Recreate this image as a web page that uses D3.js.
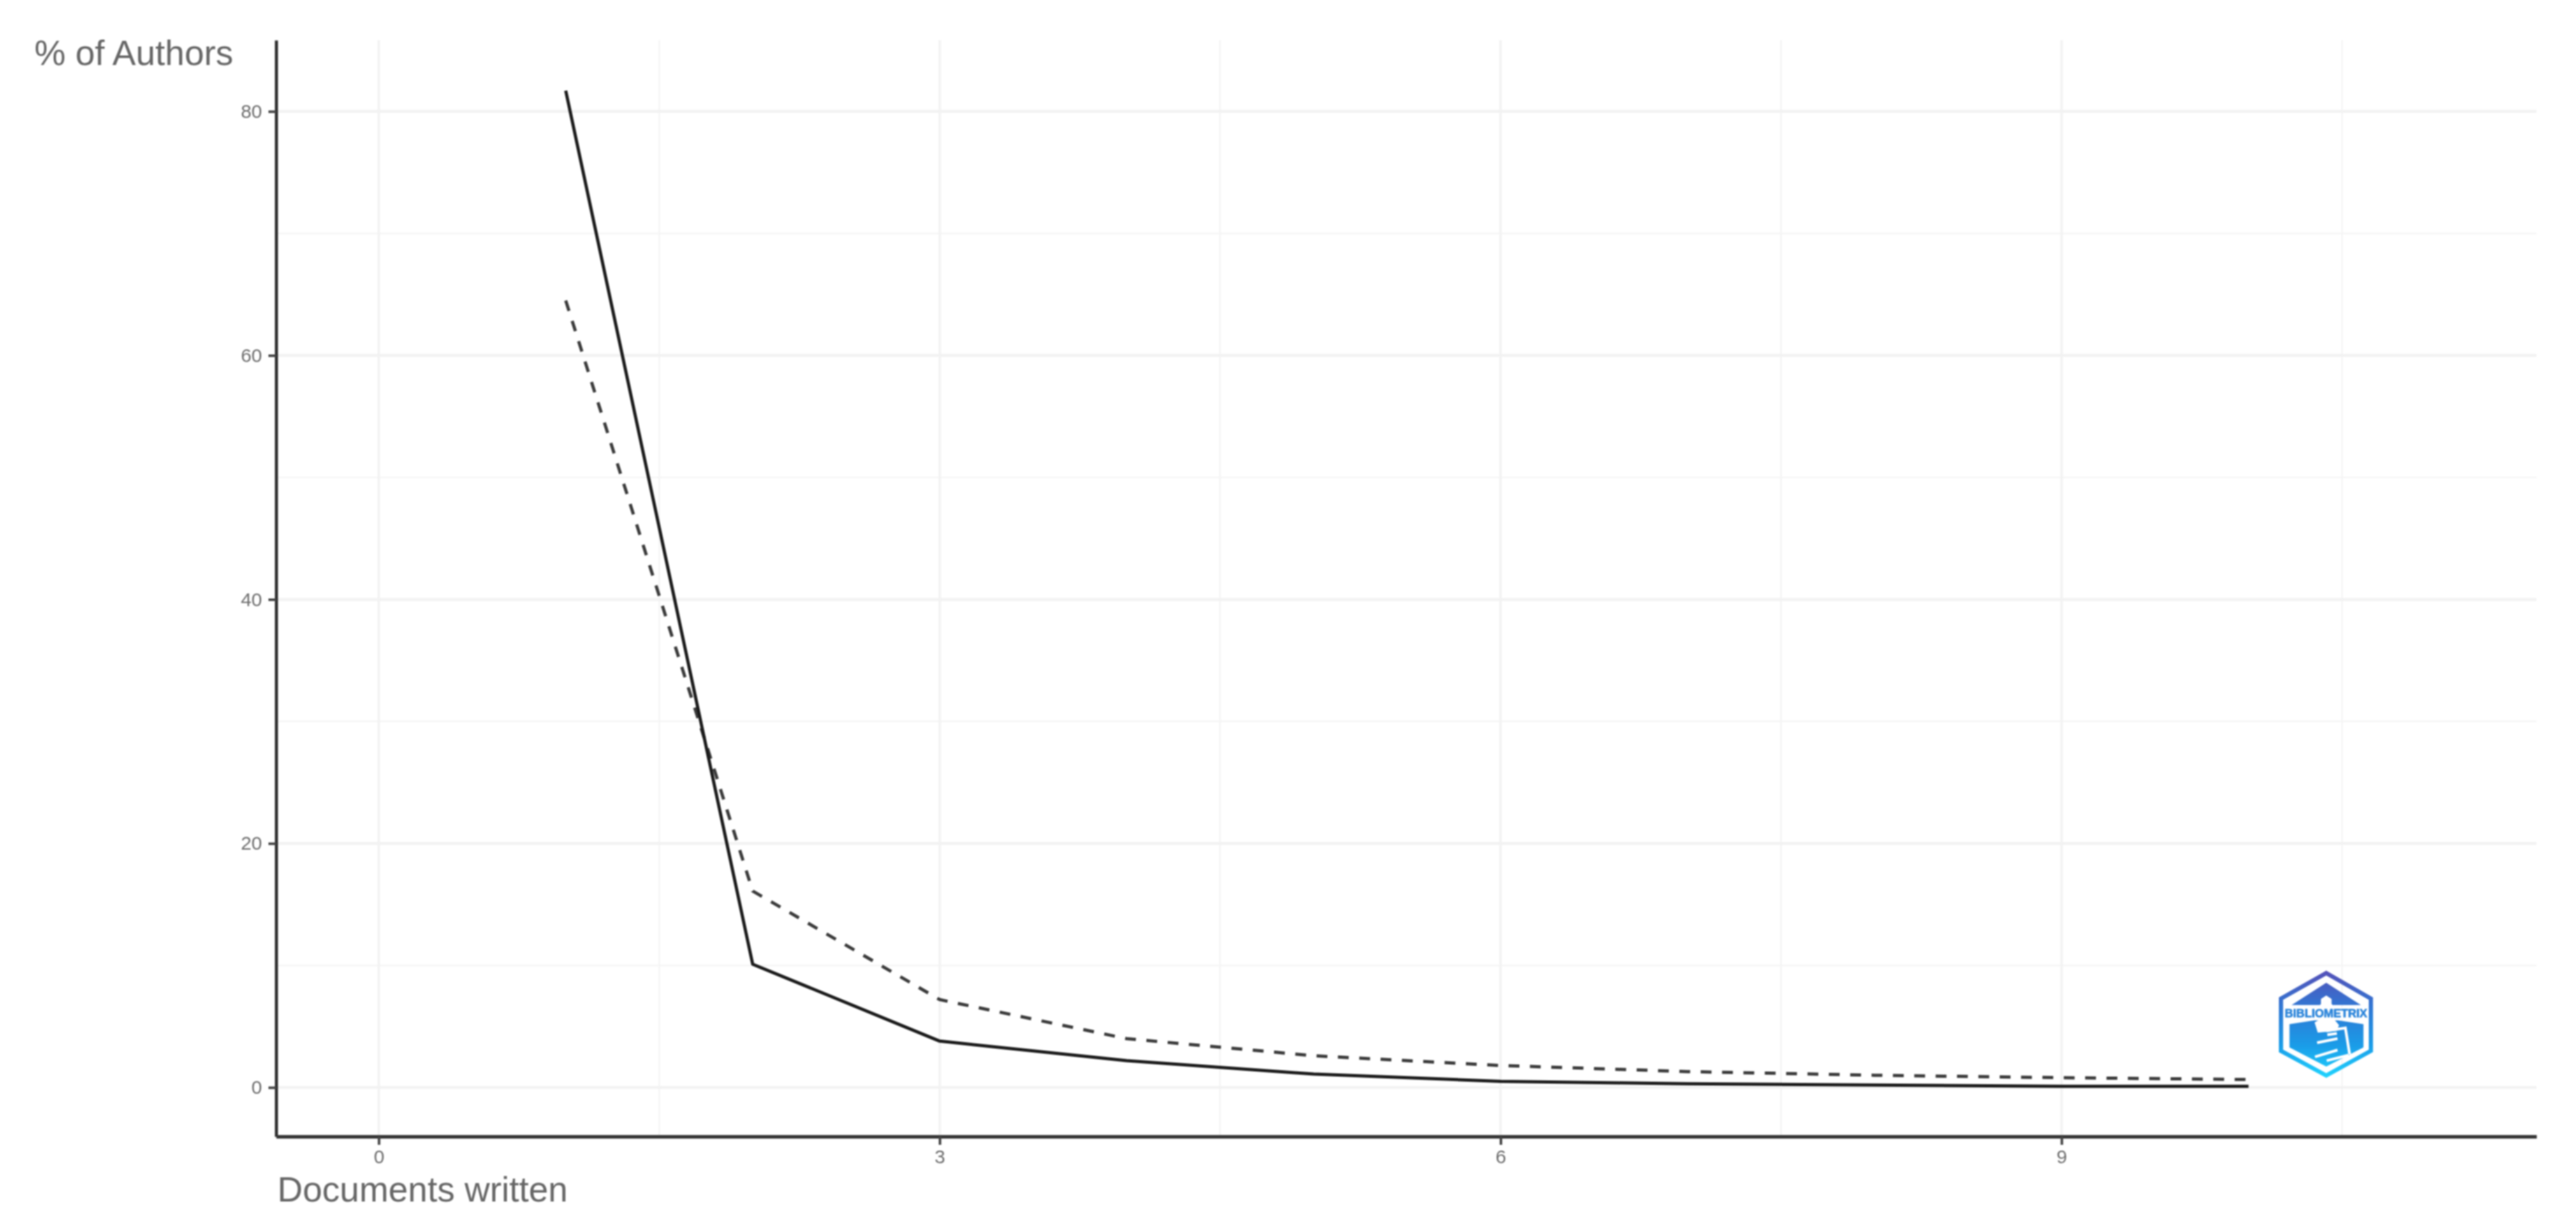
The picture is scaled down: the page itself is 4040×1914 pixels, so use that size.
<!DOCTYPE html>
<html>
<head>
<meta charset="utf-8">
<script src="https://cdn.jsdelivr.net/npm/d3@7"></script>
<style>
html, body { margin: 0; padding: 0; background: #fff; }
svg { display: block; font-family: "Liberation Sans", Arial, sans-serif; filter: blur(1.1px); }
</style>
</head>
<body>
<script>
//values
var docsWritten = [1, 2, 3, 4, 5, 6, 7, 8, 9, 10];
var observedPct = [81.7, 10.1, 3.8, 2.2, 1.1, 0.5, 0.3, 0.2, 0.1, 0.1];
var theoreticalPct = [64.5, 16.1, 7.2, 4.0, 2.6, 1.8, 1.3, 1.0, 0.8, 0.65];

var xTicks = [0, 3, 6, 9];
var xMinorTicks = [1.5, 4.5, 7.5, 10.5];
var yTicks = [0, 20, 40, 60, 80];
var yMinorTicks = [10, 30, 50, 70];

var xLabel = "Documents written";
var yLabel = "% of Authors";

var width = 4040,
    height = 1914;

//plot panel edges
var left = 433,
    right = 3978,
    top_ = 63,
    bottom = 1783;

var svg = d3.select("body")
    .append("svg")
    .attr("width", width)
    .attr("height", height);

var x = d3.scaleLinear()
    .domain([-0.549, 11.54])
    .range([left, right]);

var y = d3.scaleLinear()
    .domain([-4.02, 85.84])
    .range([bottom, top_]);

//grid lines, minor first so major sit on top
function vGrid(vals, sw, col){
    svg.append("g").selectAll("line")
        .data(vals)
        .enter()
        .append("line")
        .attr("x1", function(d){ return x(d); })
        .attr("x2", function(d){ return x(d); })
        .attr("y1", top_)
        .attr("y2", bottom)
        .attr("stroke", col)
        .attr("stroke-width", sw);
}
function hGrid(vals, sw, col){
    svg.append("g").selectAll("line")
        .data(vals)
        .enter()
        .append("line")
        .attr("x1", left)
        .attr("x2", right)
        .attr("y1", function(d){ return y(d); })
        .attr("y2", function(d){ return y(d); })
        .attr("stroke", col)
        .attr("stroke-width", sw);
}
vGrid(xMinorTicks, 2.5, "#f4f4f4");
hGrid(yMinorTicks, 2.5, "#f5f5f5");
vGrid(xTicks, 4, "#f3f3f3");
hGrid(yTicks, 4.5, "#f2f2f2");

//the two lines
var line = d3.line()
    .x(function(d){ return x(d[0]); })
    .y(function(d){ return y(d[1]); });

svg.append("path")
    .datum(d3.zip(docsWritten, theoreticalPct))
    .attr("fill", "none")
    .attr("stroke", "#3a3a3a")
    .attr("stroke-width", 5)
    .attr("stroke-dasharray", "17 16.5")
    .attr("d", line);

svg.append("path")
    .datum(d3.zip(docsWritten, observedPct))
    .attr("fill", "none")
    .attr("stroke", "#1a1a1a")
    .attr("stroke-width", 5)
    .attr("stroke-linejoin", "round")
    .attr("d", line);

//axes
var xAxis = svg.append("g")
    .attr("transform", "translate(0," + bottom + ")")
    .call(d3.axisBottom(x).tickValues(xTicks).tickSize(13).tickPadding(8).tickSizeOuter(0));

var yAxis = svg.append("g")
    .attr("transform", "translate(" + left + ",0)")
    .call(d3.axisLeft(y).tickValues(yTicks).tickSize(12).tickPadding(10).tickSizeOuter(0));

xAxis.select(".domain").attr("stroke", "#333").attr("stroke-width", 5.5);
yAxis.select(".domain").attr("stroke", "#333").attr("stroke-width", 5);
svg.selectAll(".tick line").attr("stroke", "#444").attr("stroke-width", 4);
svg.selectAll(".tick text")
    .attr("fill", "#6e6e6e")
    .style("font-size", "30px")
    .style("font-family", "'Liberation Sans', Arial, sans-serif");

//axis titles
svg.append("text")
    .attr("x", 435)
    .attr("y", 1885)
    .attr("fill", "#666")
    .style("font-size", "55px")
    .text(xLabel);

svg.append("text")
    .attr("x", 54)
    .attr("y", 102)
    .attr("fill", "#666")
    .style("font-size", "55px")
    .text(yLabel);

//logo, drawn in 3x crop coordinates
var defs = svg.append("defs");
var grad = defs.append("linearGradient")
    .attr("id", "logoGrad")
    .attr("gradientUnits", "userSpaceOnUse")
    .attr("x1", 0).attr("x2", 0)
    .attr("y1", 130).attr("y2", 632);
grad.append("stop").attr("offset", "0").attr("stop-color", "#5450b8");
grad.append("stop").attr("offset", "0.35").attr("stop-color", "#2f78d4");
grad.append("stop").attr("offset", "0.7").attr("stop-color", "#1a9ce8");
grad.append("stop").attr("offset", "1").attr("stop-color", "#1fd4ff");

var logo = svg.append("g")
    .attr("transform", "translate(3500,1480) scale(0.3333)");

logo.append("path")
    .attr("d", "M445,140L655,260V506L445,622L232,506V260Z")
    .attr("fill", "none")
    .attr("stroke", "url(#logoGrad)")
    .attr("stroke-width", 20);

//roof
logo.append("path")
    .attr("d", "M445,185L608,290H282Z")
    .attr("fill", "url(#logoGrad)");

//lower block
logo.append("path")
    .attr("d", "M272,380L390,362H500L620,380V490L445,580L272,490Z")
    .attr("fill", "url(#logoGrad)");

//lighthouse lamp and shoulders
logo.append("path")
    .attr("d", "M445,245L470,262V285L482,300H408L420,285V262Z")
    .attr("fill", "#fff");
logo.append("path")
    .attr("d", "M390,372L420,355H480L505,385L495,412L405,420Z")
    .attr("fill", "#fff");

//white rungs and rail of the tower
logo.append("path")
    .attr("d", "M445,412L535,398L555,522M402,468L498,448M392,534L498,502M447,552L550,526M450,430L495,424")
    .attr("fill", "none")
    .attr("stroke", "#fff")
    .attr("stroke-width", 13);

//name band, letters over white
logo.append("rect")
    .attr("x", 246).attr("y", 300)
    .attr("width", 398).attr("height", 55)
    .attr("fill", "#fff");
logo.append("text")
    .attr("x", 250)
    .attr("y", 347)
    .attr("textLength", 388)
    .attr("lengthAdjust", "spacingAndGlyphs")
    .attr("fill", "#2a84da")
    .attr("stroke", "#2a84da")
    .attr("stroke-width", 2)
    .style("font-size", "56px")
    .style("font-weight", "bold")
    .text("BIBLIOMETRIX");
</script>
</body>
</html>
